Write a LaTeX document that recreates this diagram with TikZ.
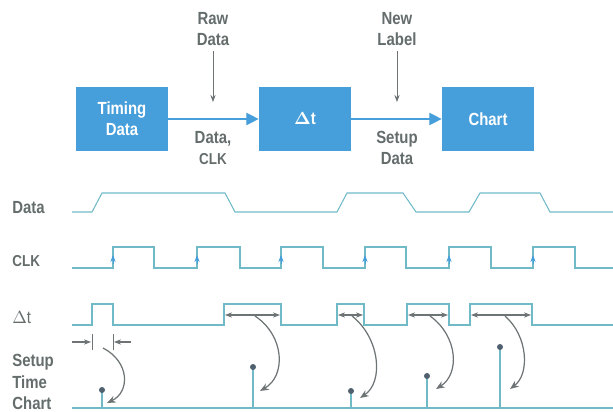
\documentclass[tikz,border=0pt]{standalone}
\usepackage{fontspec}
\setmainfont{Liberation Sans}[FakeStretch=0.85]
\usetikzlibrary{arrows.meta}
\definecolor{boxblue}{RGB}{70,158,218}
\definecolor{wave}{RGB}{112,186,200}
\definecolor{txtgray}{RGB}{100,108,108}
\definecolor{arrgray}{RGB}{110,116,118}
\definecolor{dotgray}{RGB}{80,96,110}
\tikzset{
	blk/.style={fill=boxblue, text=white, font=\bfseries, align=center, minimum width=1.84cm, minimum height=1.28cm, inner sep=0pt},
	lbl/.style={text=txtgray, font=\bfseries, align=center, inner sep=1pt},
	side/.style={text=txtgray, font=\bfseries, anchor=west, align=left, inner sep=0pt},
	flow/.style={boxblue, line width=0.7pt, -{Triangle[length=7pt,width=7pt]}},
	feed/.style={arrgray, line width=0.5pt, -{Stealth[length=4pt,width=3pt]}},
	wv/.style={wave, line width=0.6pt},
	dimarr/.style={arrgray, line width=0.6pt, {Stealth[length=4pt,width=3pt]}-{Stealth[length=4pt,width=3pt]}},
	curvearr/.style={arrgray, line width=0.7pt, -{Stealth[length=5pt,width=4pt]}},
	stemline/.style={wave, line width=0.7pt},
}
\begin{document}
\begin{tikzpicture}[x=0.02cm, y=-0.02cm]
	\useasboundingbox (0,0) rectangle (613,412);
	\node[blk] (timing) at (122,119) {Timing\\Data};
	\node[blk] (delta) at (305,119) {{\boldmath$\Delta$}t};
	\node[blk] (chart) at (488,119) {Chart};
	\node[lbl] (raw) at (213,29) {Raw\\Data};
	\node[lbl] (newlbl) at (397,29) {New\\Label};
	\node[lbl] (dclk) at (213,148) {Data,\\{\small CLK}};
	\node[lbl] (setup) at (397,148) {Setup\\Data};
	\coordinate (rawend) at (213,102);
	\coordinate (newend) at (397,102);
	\draw[flow] (timing) -- (delta);
	\draw[flow] (delta) -- (chart);
	\draw[feed] ([yshift=-2pt]raw.south) -- (rawend);
	\draw[feed] ([yshift=-2pt]newlbl.south) -- (newend);

	\node[side] (ldata) at (12,208) {Data};
	\node[side, font=\small\bfseries] (lclk) at (12,261) {CLK};
	\node[side, font=\mdseries] (ldt) at (12,318) {$\Delta$t};
	\node[side] (lsetup) at (12,382) {Setup\\Time\\Chart};

	\draw[wv] (72,212) -- (92,212) -- (102,193) -- (225,193) -- (235,212) -- (337,212) -- (347,193) -- (403,193) -- (416,212) -- (469,212) -- (480,193) -- (540,193) -- (550,212) -- (613,212);
	\draw[wv] (72,268) -- (113,268) -- (113,247) -- (154,247) -- (154,268) -- (197,268) -- (197,247) -- (240,247) -- (240,268) -- (281,268) -- (281,247) -- (323,247) -- (323,268) -- (365,268) -- (365,247) -- (406,247) -- (406,268) -- (449,268) -- (449,247) -- (491,247) -- (491,268) -- (533,268) -- (533,247) -- (575,247) -- (575,268) -- (613,268);
	\foreach \r in {113,197,281,365,449,533}
		\draw[boxblue, line width=0.5pt, -{Stealth[length=4pt,width=3pt]}] (\r,264) -- (\r,255);
	\draw[wv] (72,325) -- (92,325) -- (92,304) -- (113,304) -- (113,325) -- (224,325) -- (224,304) -- (281,304) -- (281,325) -- (337,325) -- (337,304) -- (364,304) -- (364,325) -- (407,325) -- (407,304) -- (449,304) -- (449,325) -- (470,325) -- (470,304) -- (532,304) -- (532,325) -- (613,325);

	\draw[arrgray, line width=0.5pt] (92,334) -- (92,350);
	\draw[arrgray, line width=0.5pt] (113,334) -- (113,350);
	\draw[arrgray, line width=0.6pt, -{Stealth[length=4pt,width=3pt]}] (72,342) -- (91,342);
	\draw[arrgray, line width=0.6pt, -{Stealth[length=4pt,width=3pt]}] (131,342) -- (114,342);
	\draw[dimarr] (225,315) -- (280,315);
	\draw[dimarr] (338,315) -- (363,315);
	\draw[dimarr] (408,315) -- (448,315);
	\draw[dimarr] (471,315) -- (531,315);

	\draw[curvearr] (103,348) .. controls (130,362) and (130,392) .. (107,403);
	\draw[curvearr] (255,316) .. controls (285,336) and (286,376) .. (260,391);
	\draw[curvearr] (352,316) .. controls (380,338) and (384,382) .. (360,398);
	\draw[curvearr] (430,316) .. controls (458,336) and (460,374) .. (436,389);
	\draw[curvearr] (505,316) .. controls (528,336) and (530,374) .. (510,389);

	\draw[stemline, line width=1.6pt] (72,408) -- (613,408);
	\foreach \x/\y in {102/390,253/367,351/391,427/376,500/347} {
		\draw[stemline] (\x,\y) -- (\x,408);
		\fill[dotgray] (\x,\y) circle (3);
	}
\end{tikzpicture}
\end{document}
